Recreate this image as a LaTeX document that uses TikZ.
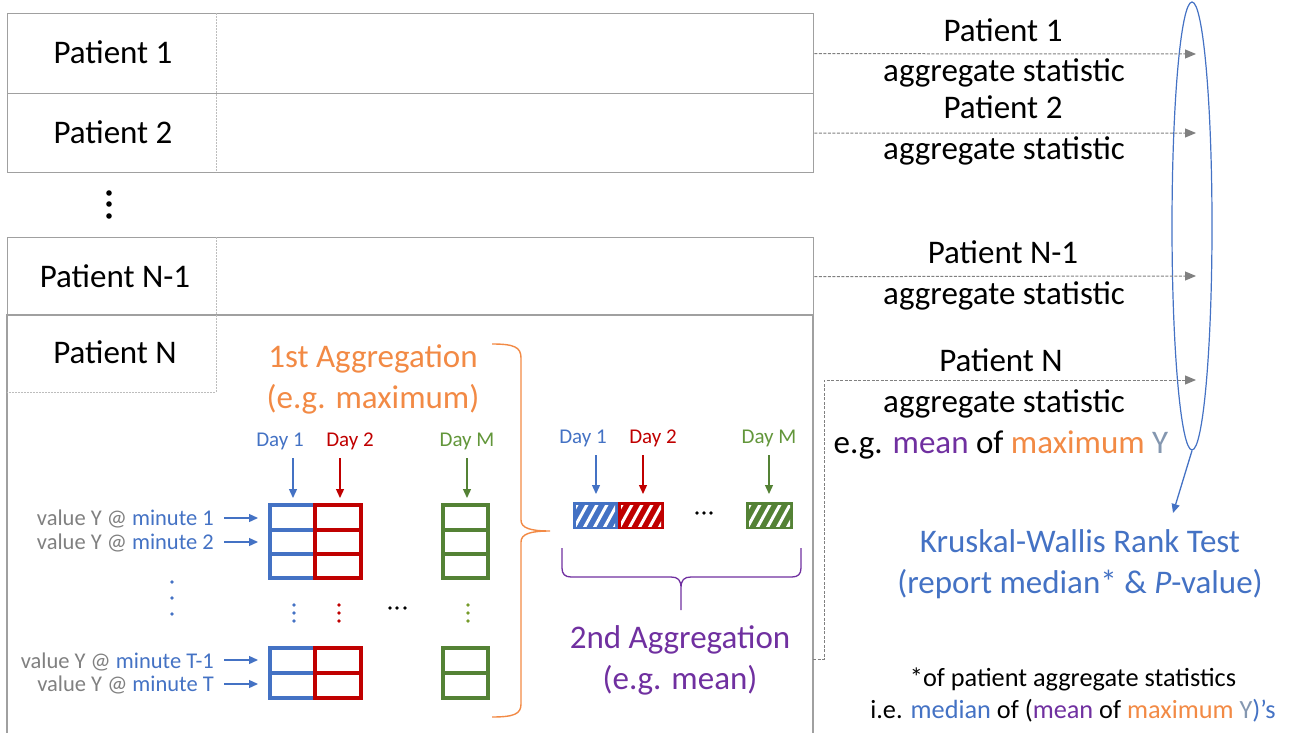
\documentclass[tikz,border=0pt]{standalone}
\usepackage{fontspec}
\setmainfont{Carlito}
\usetikzlibrary{arrows.meta,shapes.geometric}
\definecolor{cblue}{HTML}{4472C4}
\definecolor{cred}{HTML}{C00000}
\definecolor{cgreen}{HTML}{548235}
\definecolor{cgreent}{HTML}{62963A}
\definecolor{corange}{HTML}{F28A45}
\definecolor{cpurple}{HTML}{7030A0}
\definecolor{cgray}{HTML}{808080}
\definecolor{boxgray}{HTML}{A0A0A0}
\definecolor{ygray}{HTML}{8497B0}
\newcommand\fsL{\fontsize{33}{40}\selectfont}
\newcommand\fsM{\fontsize{21}{25}\selectfont}
\newcommand\fsV{\fontsize{22.5}{27}\selectfont}
\newcommand\fsF{\fontsize{26.3}{31}\selectfont}
\tikzset{
  txt/.style={inner sep=0pt, anchor=base},
  rowbox/.style={draw=boxgray, line width=1.3pt, anchor=north west, minimum width=806pt, inner sep=0pt},
  divider/.style={draw=boxgray!70, line width=0.8pt, dash pattern=on 2pt off 1pt},
  flow/.style={draw=cgray, line width=1pt, dash pattern=on 3pt off 1.5pt, -{Triangle[length=11pt,width=9pt]}},
  darrow/.style={line width=1.3pt, -{Triangle[length=9pt,width=8pt]}},
  cell/.style={line width=3.6pt},
}
\begin{document}
\begin{tikzpicture}[x=1pt,y=-1pt]
\useasboundingbox (0,0) rectangle (1290,733);
% rows
\node[rowbox, minimum height=80pt] (r1) at (7,13) {};
\node[rowbox, minimum height=79pt] (r2) at (7,93) {};
\node[rowbox, minimum height=78pt] (r3) at (7,237) {};
\draw[draw=boxgray, line width=1.3pt] (7,740) -- (7,315) -- (813,315) -- (813,740);
\draw[divider] (216,13) -- (216,172);
\draw[divider] (216,237) -- (216,315);
\draw[divider] (216,315) -- (216,392) -- (7,392);
% left labels
\node[txt] (l1) at (113,64) {\fsL Patient 1};
\node[txt] (l2) at (113,143) {\fsL Patient 2};
\node[txt] (l3) at (115,287) {\fsL Patient N-1};
\node[txt] (l4) at (115,363) {\fsL Patient N};
\foreach \yy in {193,204,216} \fill (109,\yy) circle (2.8pt);
% right texts
\node[txt] (s1a) at (1003,42) {\fsL Patient 1};
\node[txt] (s1b) at (1004,82) {\fsL aggregate statistic};
\node[txt] (s2a) at (1003,119) {\fsL Patient 2};
\node[txt] (s2b) at (1004,160) {\fsL aggregate statistic};
\node[txt] (s3a) at (1003,263) {\fsL Patient N-1};
\node[txt] (s3b) at (1004,304) {\fsL aggregate statistic};
\node[txt] (s4a) at (1001,371) {\fsL Patient N};
\node[txt] (s4b) at (1004,412) {\fsL aggregate statistic};
\node[txt] (s4c) at (1001,453) {\fsL e.g. \textcolor{cpurple}{mean} of \textcolor{corange}{maximum} \textcolor{ygray}{Y}};
% ellipse
\node[ellipse, draw=cblue, line width=1.2pt, minimum width=40pt, minimum height=448pt, inner sep=0pt] (kwell) at (1192,226) {};
% flows
\coordinate (e1) at (1196,54);
\coordinate (e2) at (1196,133);
\coordinate (e3) at (1196,276);
\coordinate (e4) at (1196,380);
\coordinate (pNout) at (813,659);
\draw[flow] (r1.east) -- (e1);
\draw[flow] (r2.east) -- (e2);
\draw[flow] (r3.east) -- (e3);
\draw[flow] (pNout) -- (824,659) -- (824,380) -- (e4);
% KW
\node[txt, text=cblue] (kw1) at (1080,552) {\fsL Kruskal-Wallis Rank Test};
\node[txt, text=cblue] (kw2) at (1080,593) {\fsL (report median* \& \textit{P}-value)};
\coordinate (kwtip) at (1173,513);
\draw[cblue, darrow] (kwell.south) -- (kwtip);
\node[txt] (f1) at (1073,686) {\fsF *of patient aggregate statistics};
\node[txt] (f2) at (1073,718) {\fsF i.e. \textcolor{cblue}{median} of (\textcolor{cpurple}{mean} of \textcolor{corange}{maximum} \textcolor{ygray}{Y}\textcolor{cblue}{)’s}};
% 1st aggregation
\node[txt, text=corange] (a1) at (373,367) {\fsL 1st Aggregation};
\node[txt, text=corange] (a1b) at (373,408) {\fsL (e.g. maximum)};
\draw[corange, line width=1.4pt] (492,344) .. controls (514,344) and (521,347) .. (521,358) -- (521,520) .. controls (521,528) and (530,531) .. (550,531) .. controls (530,531) and (521,534) .. (521,542) -- (521,704) .. controls (521,714) and (514,717) .. (492,717);
% day labels grid
\node[txt, text=cblue] (d1) at (280,446) {\fsM Day 1};
\node[txt, text=cred] (d2) at (350,446) {\fsM Day 2};
\node[txt, text=cgreent] (dm) at (467,446) {\fsM Day M};
\coordinate (d1s) at (293,458); \coordinate (d1e) at (293,498);
\coordinate (d2s) at (340,458); \coordinate (d2e) at (340,498);
\coordinate (dms) at (467,458); \coordinate (dme) at (467,498);
\draw[cblue, darrow] (d1s) -- (d1e);
\draw[cred, darrow] (d2s) -- (d2e);
\draw[cgreen, darrow] (dms) -- (dme);
% grid top
\draw[cblue, cell] (270,505) rectangle (315,578) (270,530) -- (315,530) (270,554) -- (315,554);
\draw[cred, cell] (315,505) rectangle (361,578) (315,530) -- (361,530) (315,554) -- (361,554);
\draw[cgreen, cell] (443,505) rectangle (488,578) (443,530) -- (488,530) (443,554) -- (488,554);
% grid bottom
\draw[cblue, cell] (270,648) rectangle (315,698) (270,673) -- (315,673);
\draw[cred, cell] (315,648) rectangle (361,698) (315,673) -- (361,673);
\draw[cgreen, cell] (443,648) rectangle (488,698) (443,673) -- (488,673);
% dots
\foreach \yy in {605,613,621} {
  \fill[cblue] (294,\yy) circle (1.8pt);
  \fill[cred] (339,\yy) circle (1.8pt);
  \fill[cgreen!80!yellow] (468,\yy) circle (1.8pt);
}
\foreach \xx in {390,397,405} \fill (\xx,608) circle (1.9pt);
\foreach \yy in {582,598,614} \fill[cblue] (172,\yy) circle (1.8pt);
% minute labels
\node[txt, anchor=base east] (m1) at (214,525) {\fsV \textcolor{cgray}{value Y @} \textcolor{cblue}{minute 1}};
\node[txt, anchor=base east] (m2) at (214,549) {\fsV \textcolor{cgray}{value Y @} \textcolor{cblue}{minute 2}};
\node[txt, anchor=base east] (m3) at (214,668) {\fsV \textcolor{cgray}{value Y @} \textcolor{cblue}{minute T-1}};
\node[txt, anchor=base east] (m4) at (214,691) {\fsV \textcolor{cgray}{value Y @} \textcolor{cblue}{minute T}};
\foreach \nm/\yy in {a/518,b/542,c/660,d/684} {
  \coordinate (ms\nm) at (224,\yy); \coordinate (me\nm) at (258,\yy);
  \draw[cblue, darrow] (ms\nm) -- (me\nm);
}
% second aggregation
\node[txt, text=cblue] (e1d) at (583,443) {\fsM Day 1};
\node[txt, text=cred] (e2d) at (653,443) {\fsM Day 2};
\node[txt, text=cgreent] (emd) at (769,443) {\fsM Day M};
\coordinate (b1s) at (596,455); \coordinate (b1e) at (596,494);
\coordinate (b2s) at (643,455); \coordinate (b2e) at (643,494);
\coordinate (bms) at (769,455); \coordinate (bme) at (769,494);
\draw[cblue, darrow] (b1s) -- (b1e);
\draw[cred, darrow] (b2s) -- (b2e);
\draw[cgreen, darrow] (bms) -- (bme);
\foreach \cc/\xa/\xb in {cblue/573/618, cred/618/664, cgreen/746/793} {
  \fill[\cc] (\xa,502) rectangle (\xb,529);
  \begin{scope}
    \clip (\xa+3,505) rectangle (\xb-3,526);
    \foreach \k in {-20,-10,...,60} \draw[white, line width=3pt] (\xa+\k,530) -- (\xa+\k+16,501);
  \end{scope}
}
\foreach \xx in {697,704,711} \fill (\xx,513) circle (1.9pt);
\draw[cpurple, line width=1.3pt] (562,548) -- (562,568) .. controls (562,574) and (565,577) .. (571,577) -- (671,577) .. controls (678,577) and (681,580) .. (681,588) -- (681,610)
  (681,588) .. controls (681,580) and (684,577) .. (691,577) -- (792,577) .. controls (798,577) and (801,574) .. (801,568) -- (801,548);
\node[txt, text=cpurple] (a2) at (680,648) {\fsL 2nd Aggregation};
\node[txt, text=cpurple] (a2b) at (680,689) {\fsL (e.g. mean)};
\end{tikzpicture}
\end{document}
